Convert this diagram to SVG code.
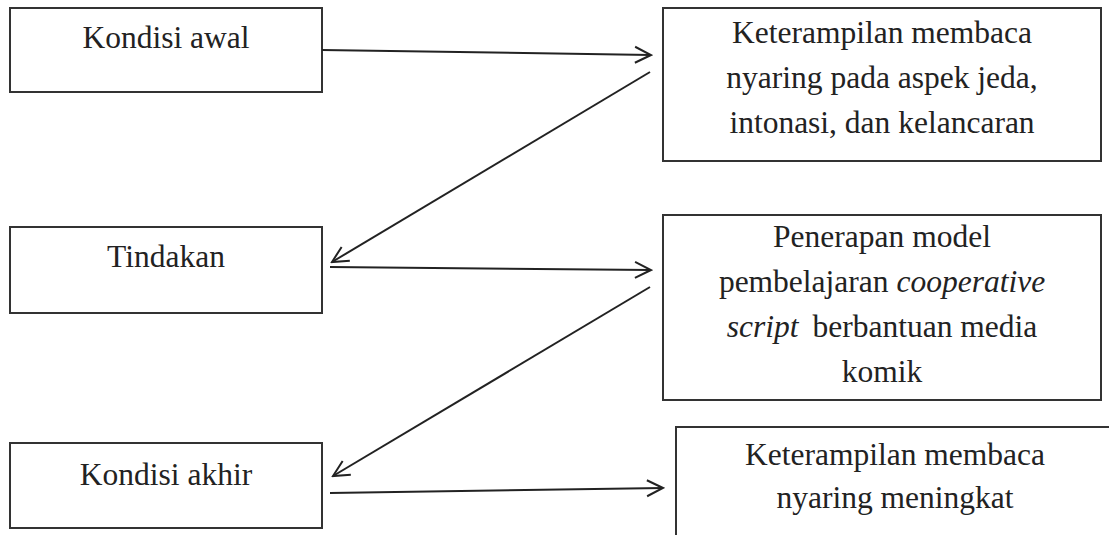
<svg xmlns="http://www.w3.org/2000/svg" width="1109" height="535" viewBox="0 0 1109 535">
<style>
.box{fill:#fff;stroke:#333;stroke-width:2}
.t{font-family:"Liberation Serif","Times New Roman",serif;font-size:31.5px;fill:#222;text-anchor:middle}
.c{stroke:#222;stroke-width:2;fill:none;marker-end:url(#ah)}
</style>
<defs>
<marker id="ah" viewBox="0 0 20 20" refX="18" refY="10" markerWidth="20" markerHeight="20" markerUnits="userSpaceOnUse" orient="auto">
<path d="M2,2 L18,10 L2,18" fill="none" stroke="#222" stroke-width="2"/>
</marker>
</defs>
<rect width="1109" height="535" fill="#fff"/>
<g id="n1"><rect class="box" x="10" y="8" width="312" height="84"/><text class="t" x="166" y="48">Kondisi awal</text></g>
<g id="n2"><rect class="box" x="663" y="8" width="438" height="153"/><text class="t" x="882" y="43">Keterampilan membaca</text><text class="t" x="882" y="88">nyaring pada aspek jeda,</text><text class="t" x="882" y="133">intonasi, dan kelancaran</text></g>
<g id="n3"><rect class="box" x="10" y="227" width="312" height="86"/><text class="t" x="166" y="267">Tindakan</text></g>
<g id="n4"><rect class="box" x="663" y="215" width="438" height="185"/><text class="t" x="882" y="247">Penerapan model</text><text class="t" x="882" y="292">pembelajaran <tspan font-style="italic">cooperative</tspan></text><text class="t" x="882" y="337"><tspan font-style="italic">script</tspan><tspan dx="14">berbantuan media</tspan></text><text class="t" x="882" y="382">komik</text></g>
<g id="n5"><rect class="box" x="10" y="443" width="312" height="85"/><text class="t" x="166" y="485">Kondisi akhir</text></g>
<g id="n6"><rect class="box" x="676" y="427" width="440" height="120"/><text class="t" x="895" y="465">Keterampilan membaca</text><text class="t" x="895" y="508">nyaring meningkat</text></g>
<g id="connectors">
<line class="c" x1="322" y1="50" x2="651" y2="55"/>
<line class="c" x1="650" y1="72" x2="332" y2="262"/>
<line class="c" x1="330" y1="267" x2="651" y2="270"/>
<line class="c" x1="650" y1="287" x2="333" y2="476"/>
<line class="c" x1="330" y1="493" x2="663" y2="488"/>
</g>
</svg>
